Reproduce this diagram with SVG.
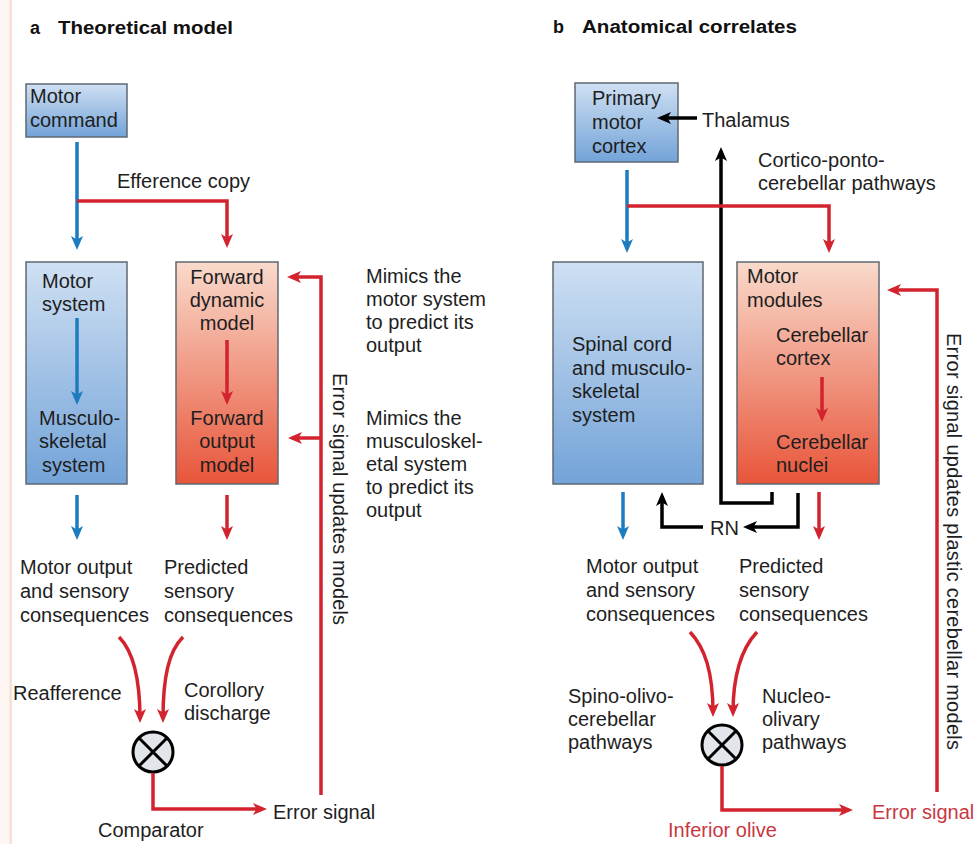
<svg xmlns="http://www.w3.org/2000/svg" width="979" height="844" viewBox="0 0 979 844">
<style>
text{font-family:"Liberation Sans",Arial,sans-serif;font-size:20px;fill:#1e1e1e}
.title{font-weight:bold;font-size:18px;fill:#111}
.mid{text-anchor:middle}
.redt{fill:#c8373f}
.box{stroke:#5f6872;stroke-width:1.5}
.bl{fill:none;stroke:#1d7cbf;stroke-width:3.5}
.rd{fill:none;stroke:#d2232e;stroke-width:3.5}
.bk{fill:none;stroke:#000;stroke-width:3.5}
.comp{fill:#e2e6ea;stroke:#000;stroke-width:3}
.cx{stroke:#000;stroke-width:3}
</style>
<defs>
<linearGradient id="gBlue" x1="0" y1="0" x2="0" y2="1">
<stop offset="0" stop-color="#cfe0f3"/><stop offset="1" stop-color="#73a3d8"/>
</linearGradient>
<linearGradient id="gRed" x1="0" y1="0" x2="0" y2="1">
<stop offset="0" stop-color="#f9dacb"/><stop offset="1" stop-color="#e8553a"/>
</linearGradient>
<marker id="mB" viewBox="0 0 14 12" refX="10" refY="6" markerWidth="14" markerHeight="12" markerUnits="userSpaceOnUse" orient="auto"><path d="M0,0 L14,6 L0,12 L3.5,6 Z" fill="#1d7cbf"/></marker>
<marker id="mR" viewBox="0 0 14 12" refX="10" refY="6" markerWidth="14" markerHeight="12" markerUnits="userSpaceOnUse" orient="auto"><path d="M0,0 L14,6 L0,12 L3.5,6 Z" fill="#d2232e"/></marker>
<marker id="mK" viewBox="0 0 14 12" refX="10" refY="6" markerWidth="14" markerHeight="12" markerUnits="userSpaceOnUse" orient="auto"><path d="M0,0 L14,6 L0,12 L3.5,6 Z" fill="#000"/></marker>
</defs>
<rect x="0" y="0" width="979" height="844" fill="#fff"/>
<rect x="0" y="0" width="12" height="844" fill="#fdf6f2"/>
<rect x="9.5" y="0" width="2.5" height="844" fill="#f6e0d6"/>

<text class="title" x="30" y="34">a</text>
<text class="title" x="58" y="34" textLength="175" lengthAdjust="spacingAndGlyphs">Theoretical model</text>
<text class="title" x="553" y="33">b</text>
<text class="title" x="582" y="33" textLength="215" lengthAdjust="spacingAndGlyphs">Anatomical correlates</text>

<g id="motor-command">
<rect class="box" x="26" y="84" width="101" height="53" fill="url(#gBlue)"/>
<text x="30" y="103">Motor</text><text x="30" y="127">command</text>
</g>
<g id="motor-system">
<rect class="box" x="26" y="262" width="101" height="222" fill="url(#gBlue)"/>
<text x="42" y="288">Motor</text><text x="42" y="311">system</text>
<text x="39" y="425">Musculo-</text><text x="39" y="448">skeletal</text><text x="42" y="472">system</text>
</g>
<g id="forward-models">
<rect class="box" x="176" y="262" width="102" height="222" fill="url(#gRed)"/>
<text class="mid" x="227" y="284">Forward</text><text class="mid" x="227" y="307">dynamic</text><text class="mid" x="227" y="330">model</text>
<text class="mid" x="227" y="425">Forward</text><text class="mid" x="227" y="448">output</text><text class="mid" x="227" y="472">model</text>
</g>
<g id="a-annotations">
<text x="366" y="283">Mimics the</text><text x="366" y="306">motor system</text><text x="366" y="329">to predict its</text><text x="366" y="352">output</text>
<text x="366" y="425">Mimics the</text><text x="366" y="448">musculoskel-</text><text x="366" y="471">etal system</text><text x="366" y="494">to predict its</text><text x="366" y="517">output</text>
</g>
<g id="a-outputs">
<text x="20" y="574">Motor output</text><text x="20" y="598">and sensory</text><text x="20" y="622">consequences</text>
<text x="164" y="574">Predicted</text><text x="164" y="598">sensory</text><text x="164" y="622">consequences</text>
<text x="13" y="700">Reafference</text>
<text x="184" y="697">Corollory</text><text x="184" y="720">discharge</text>
</g>
<g id="a-comparator">
<circle class="comp" cx="153" cy="752" r="20"/>
<line class="cx" x1="139" y1="738" x2="167" y2="766"/><line class="cx" x1="167" y1="738" x2="139" y2="766"/>
<text x="98" y="837">Comparator</text>
</g>
<g id="a-error"><text x="273" y="819">Error signal</text></g>
<text x="333" y="373" transform="rotate(90 333 373)" textLength="252" lengthAdjust="spacing">Error signal updates models</text>

<g id="primary-motor-cortex">
<rect class="box" x="575" y="83" width="103" height="79" fill="url(#gBlue)"/>
<text x="592" y="105">Primary</text><text x="592" y="129">motor</text><text x="592" y="153">cortex</text>
</g>
<g id="thalamus"><text x="702" y="127">Thalamus</text></g>
<g id="cpc-label"><text x="758" y="167">Cortico-ponto-</text><text x="758" y="190">cerebellar pathways</text></g>
<g id="spinal-cord">
<rect class="box" x="553" y="262" width="150" height="222" fill="url(#gBlue)"/>
<text x="572" y="351">Spinal cord</text><text x="572" y="375">and musculo-</text><text x="572" y="398">skeletal</text><text x="572" y="422">system</text>
</g>
<g id="motor-modules">
<rect class="box" x="737" y="262" width="142" height="222" fill="url(#gRed)"/>
<text x="747" y="283">Motor</text><text x="747" y="307">modules</text>
<text x="776" y="342">Cerebellar</text><text x="776" y="365">cortex</text>
<text x="776" y="449">Cerebellar</text><text x="776" y="472">nuclei</text>
</g>
<g id="rn"><text x="710" y="535">RN</text></g>
<g id="b-outputs">
<text x="586" y="573">Motor output</text><text x="586" y="597">and sensory</text><text x="586" y="621">consequences</text>
<text x="739" y="573">Predicted</text><text x="739" y="597">sensory</text><text x="739" y="621">consequences</text>
<text x="568" y="703">Spino-olivo-</text><text x="568" y="726">cerebellar</text><text x="568" y="749">pathways</text>
<text x="762" y="703">Nucleo-</text><text x="762" y="726">olivary</text><text x="762" y="749">pathways</text>
</g>
<g id="inferior-olive">
<circle class="comp" cx="722" cy="745" r="20"/>
<line class="cx" x1="708" y1="731" x2="736" y2="759"/><line class="cx" x1="736" y1="731" x2="708" y2="759"/>
<text class="redt" x="668" y="837">Inferior olive</text>
</g>
<g id="b-error"><text class="redt" x="872" y="819">Error signal</text></g>
<text x="947" y="333" transform="rotate(90 947 333)" textLength="417" lengthAdjust="spacing">Error signal updates plastic cerebellar models</text>

<g id="connectors">
<path class="bl" d="M77,142 V246" marker-end="url(#mB)"/>
<path class="rd" d="M77,201 H227 V244" marker-end="url(#mR)"/>
<text x="117" y="188">Efference copy</text>
<path class="bl" d="M77,318 V401" marker-end="url(#mB)"/>
<path class="rd" d="M227,340 V401" marker-end="url(#mR)"/>
<path class="bl" d="M77,495 V536" marker-end="url(#mB)"/>
<path class="rd" d="M227,495 V536" marker-end="url(#mR)"/>
<path class="rd" d="M119,637 C133,651 140,676 140,719" marker-end="url(#mR)"/>
<path class="rd" d="M183,637 C169,651 163,676 163,719" marker-end="url(#mR)"/>
<path class="rd" d="M153,773 V809 H263" marker-end="url(#mR)"/>
<path class="rd" d="M321,795 V277 H291" marker-end="url(#mR)"/>
<path class="rd" d="M321,438 H292" marker-end="url(#mR)"/>

<path class="bl" d="M627,170 V249" marker-end="url(#mB)"/>
<path class="bk" d="M772,492 V503 H721 V151" marker-end="url(#mK)"/>
<path class="rd" d="M627,206 H829 V249" marker-end="url(#mR)"/>
<path class="bk" d="M697,118 H661" marker-end="url(#mK)"/>
<path class="bk" d="M798,493 V527 H747" marker-end="url(#mK)"/>
<path class="bk" d="M703,527 H662 V496" marker-end="url(#mK)"/>
<path class="rd" d="M822,377 V418" marker-end="url(#mR)"/>
<path class="bl" d="M623,492 V536" marker-end="url(#mB)"/>
<path class="rd" d="M819,492 V536" marker-end="url(#mR)"/>
<path class="rd" d="M690,632 C705,648 713,672 713,713" marker-end="url(#mR)"/>
<path class="rd" d="M757,632 C742,648 733,672 733,713" marker-end="url(#mR)"/>
<path class="rd" d="M722,766 V810 H849" marker-end="url(#mR)"/>
<path class="rd" d="M937,792 V290 H891" marker-end="url(#mR)"/>
</g>
</svg>
